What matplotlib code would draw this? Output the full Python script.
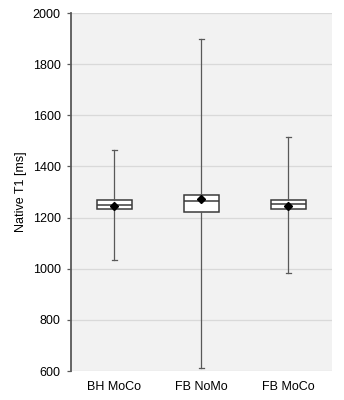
import matplotlib
matplotlib.use("Agg")
import matplotlib.pyplot as plt

# values
categories = ["BH MoCo", "FB NoMo", "FB MoCo"]
whisker_low = [1033, 610, 984]
q1 = [1232, 1221, 1232]
median = [1249, 1264, 1252]
q3 = [1268, 1290, 1267]
whisker_high = [1465, 1900, 1515]
means = [1246, 1272, 1246]

plt.rcParams['font.family'] = ['Liberation Sans', 'DejaVu Sans']

fig = plt.figure(figsize=(3.44, 4.0), dpi=100)
ax = fig.add_axes([0.2064, 0.0725, 0.7586, 0.895])
ax.set_facecolor('#f2f2f2')

stats = []
for i in range(len(categories)):
    stats.append({
        'label': categories[i],
        'whislo': whisker_low[i],
        'q1': q1[i],
        'med': median[i],
        'q3': q3[i],
        'whishi': whisker_high[i],
        'mean': means[i],
        'fliers': [],
    })

ax.bxp(stats, positions=[0, 1, 2], widths=0.4, showmeans=True, patch_artist=True,
       boxprops=dict(facecolor='white', edgecolor='#3a3a3a', linewidth=1.1),
       medianprops=dict(color='#3a3a3a', linewidth=1.1),
       whiskerprops=dict(color='#595959', linewidth=0.9),
       capprops=dict(color='#595959', linewidth=0.9),
       capwidths=0.05,
       meanprops=dict(marker='D', markerfacecolor='black', markeredgecolor='black', markersize=4.5),
       zorder=3)

ax.set_xlim(-0.5, 2.5)
ax.set_ylim(600, 2000)
ax.set_yticks(range(600, 2001, 200))
ax.yaxis.grid(True, color='#d9d9d9', linewidth=0.9, zorder=0)
ax.set_axisbelow(True)

for s in ['top', 'right', 'bottom']:
    ax.spines[s].set_visible(False)
ax.spines['left'].set_color('#595959')
ax.spines['left'].set_linewidth(1.3)

ax.tick_params(axis='y', length=3, width=0.9, color='#595959', labelsize=9, labelcolor='black', pad=4.5)
ax.tick_params(axis='x', length=0, labelsize=9, pad=7)
ax.set_ylabel("Native T1 [ms]", fontsize=9, labelpad=4)

fig.savefig("out.png", dpi=100)
